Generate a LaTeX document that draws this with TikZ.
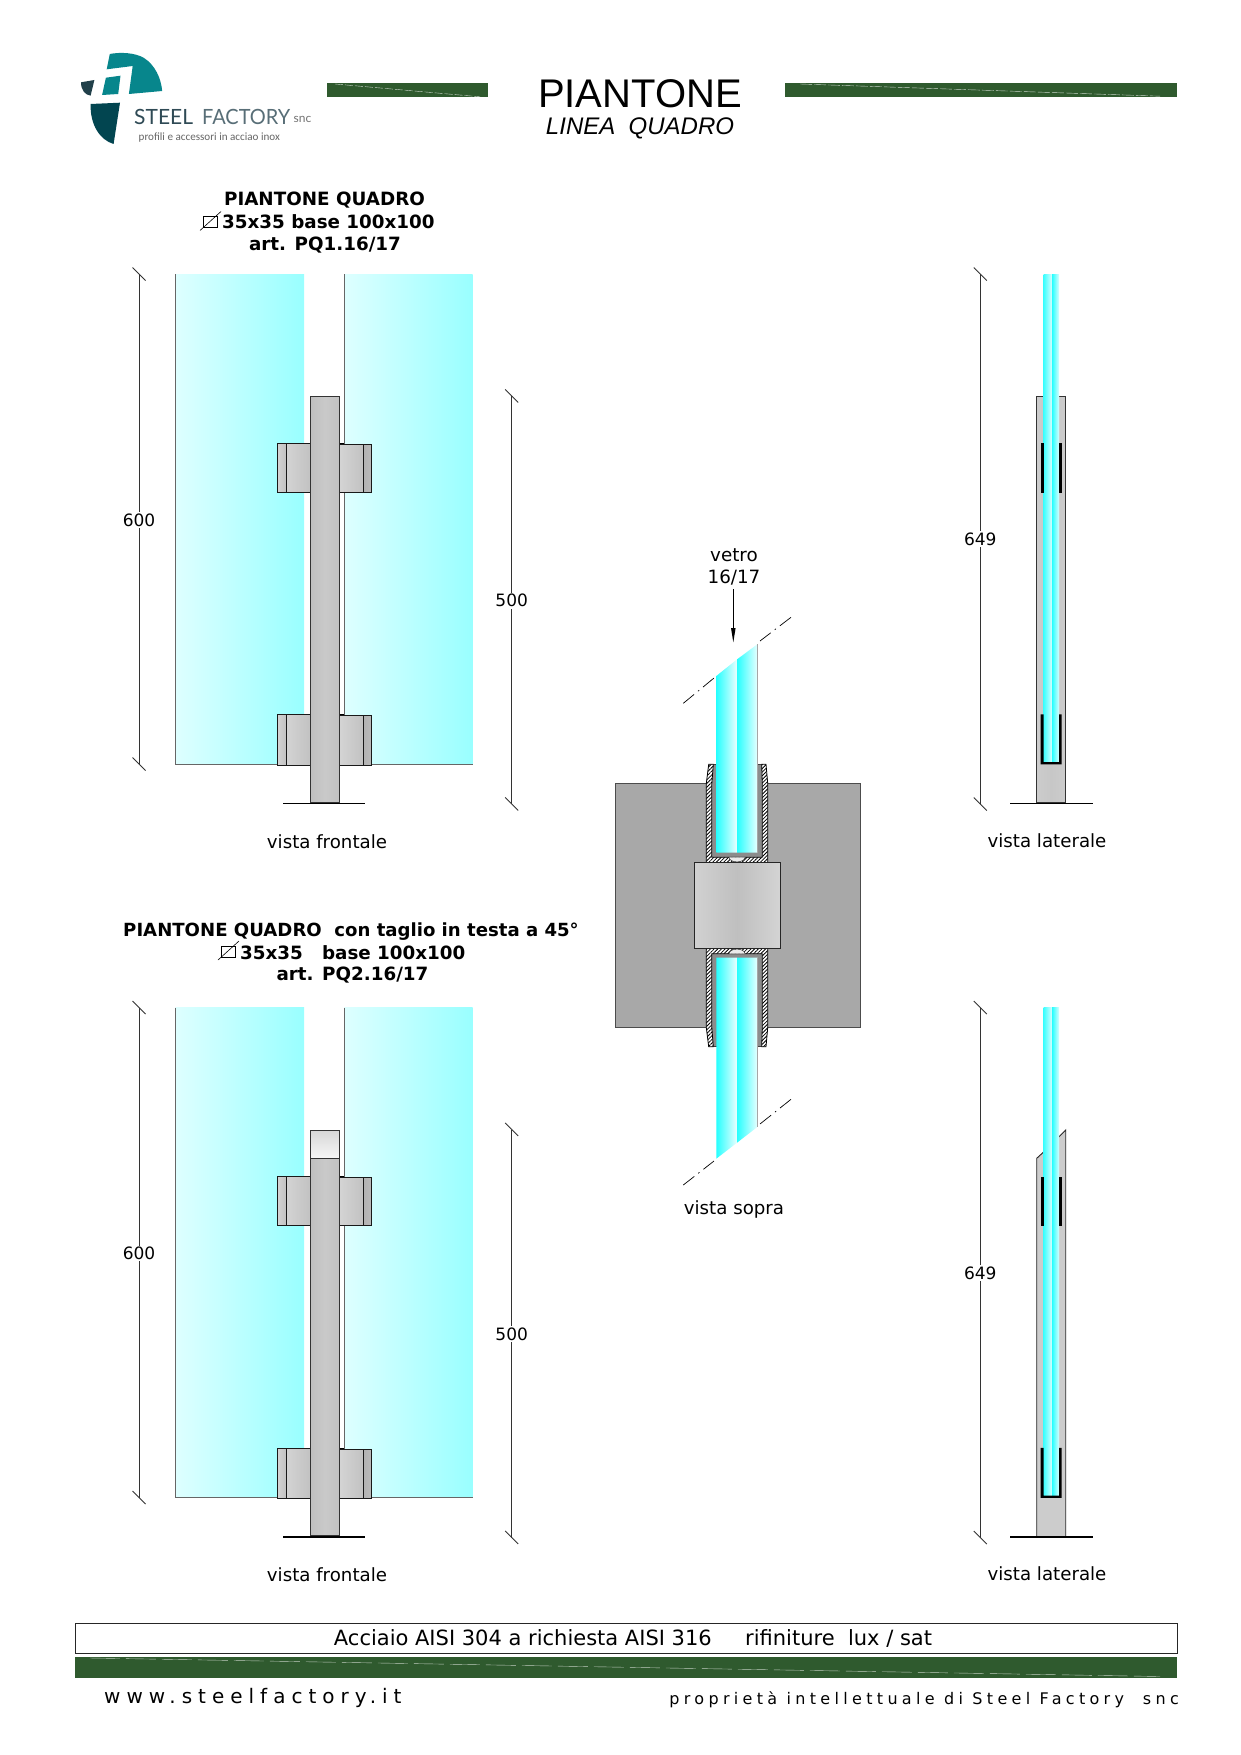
\documentclass[tikz,border=0pt]{standalone}
\usepackage{fontspec}
\setmainfont{DejaVu Sans}
\newfontfamily\arialf{Liberation Sans}
\newfontfamily\logof{Lato}
\newfontfamily\carl{Carlito}
\usetikzlibrary{patterns.meta}
\definecolor{green1}{HTML}{2F5A2E}
\definecolor{teal1}{HTML}{07868C}
\definecolor{teal2}{HTML}{024550}
\definecolor{slate1}{HTML}{21404A}
\definecolor{logot}{HTML}{2F4A55}
\tikzset{
 lbl/.style={font=\fontsize{18.2}{18.2}\selectfont,text=black,inner sep=0pt},
 dimt/.style={font=\fontsize{17}{17}\selectfont,fill=white,inner sep=1.5pt},
 gltxt/.style={font=\fontsize{18.3}{18.3}\selectfont,inner sep=0pt},
 ttl/.style={font=\fontsize{18.3}{18.3}\selectfont\bfseries,inner sep=0pt},
 dimline/.style={draw=black!80,line width=.9pt},
 panel/.style={left color=cyan!13,right color=cyan!40,shading angle=90},
 edgeg/.style={draw=black!60,line width=.8pt},
 post/.style={left color=black!25,right color=black!24,middle color=black!21,draw=black!80,line width=.9pt},
 clamp/.style={left color=black!17,right color=black!24,draw=black!90,line width=.9pt},
 clampend/.style={left color=black!30,right color=black!27,draw=black!90,line width=.9pt},
 plate/.style={draw=black,line width=1.6pt},
 hatchwall/.style={draw=black,line width=.8pt,preaction={fill=white},pattern={Lines[angle=45,distance=2.6pt,line width=.8pt]},pattern color=black},
 gl/.style={left color=cyan!85,right color=cyan!8},
 cutline/.style={draw=black,line width=.7pt,dash pattern=on 14pt off 5pt on 1.5pt off 5pt},
}
\newcommand{\vdim}[5]{%
 \draw[dimline] (#1,#2) -- (#1,#3);
 \draw[dimline] (#1-6.5,#2-6.5) -- (#1+6.5,#2+6.5);
 \draw[dimline] (#1-6.5,#3-6.5) -- (#1+6.5,#3+6.5);
 \node[dimt] at (#1,#5) {#4};
}
\newcommand{\frontview}{%
 \shade[panel] (175.7,274) rectangle (304,764);
 \shade[panel] (344.3,274) rectangle (472.7,764);
 \draw[edgeg] (175.7,274) -- (175.7,764) -- (304,764);
 \draw[edgeg] (344.3,274) -- (344.3,764) -- (472.7,764);
 % upper clamps
 \shade[clamp] (277.5,443.3) rectangle (286,492.3);
 \shade[clamp] (286,443.3) rectangle (310,492.3);
 \shade[clamp] (339.5,444.3) rectangle (363.5,492.3);
 \shade[clampend] (363.5,444.3) rectangle (371.5,492.3);
 \draw[black,line width=.9pt] (339.5,443.3) -- (344.3,443.3);
 % lower clamps
 \shade[clamp] (277.5,714.7) rectangle (286,765.3);
 \shade[clamp] (286,714.7) rectangle (310,765.3);
 \shade[clamp] (339.5,715.7) rectangle (363.5,765.3);
 \shade[clampend] (363.5,715.7) rectangle (371.5,765.3);
 \draw[black,line width=.9pt] (339.5,714.7) -- (344.3,714.7);
}
\newcommand{\sideview}{%
 \shade[left color=cyan!75,right color=cyan!15] (1043.7,274) rectangle (1052,762.7);
 \shade[left color=cyan!85,right color=cyan!15] (1052,274) rectangle (1059,762.7);
}
\newcommand{\sideclamps}{%
 \fill[black] (1040.7,443.3) rectangle (1043.7,492.7);
 \fill[black] (1059,443.3) rectangle (1061.7,492.7);
 \fill[black] (1040.7,714.3) -- (1043.7,714.3) -- (1043.7,762) -- (1059,762) -- (1059,714.3) -- (1061.7,714.3) -- (1061.7,764.3) -- (1040.7,764.3) -- cycle;
}
\newcommand{\channel}{%
 \fill[black!45] (713.3,764.3) -- (711.7,785) -- (711.7,857.3) -- (762.3,857.3) -- (762.3,785) -- (761.7,764.3) -- cycle;
 \draw[black!75,line width=.7pt] (713.3,764.3) -- (761.7,764.3);
 \path[hatchwall] (708.7,764.3) -- (706.3,783.3) -- (706.3,862.7) -- (767.7,862.7) -- (767.7,783.3) -- (766,764.3) -- (761.7,764.3) -- (762.3,785) -- (762.3,857.3) -- (711.7,857.3) -- (711.7,785) -- (713.3,764.3) -- cycle;
}
\newcommand{\dome}{%
 \fill[white!92!black] (729,857.3) arc[start angle=180,end angle=0,x radius=8,y radius=4.6] -- cycle;
 \draw[black!80,line width=.5pt] (729,857.3) arc[start angle=180,end angle=0,x radius=8,y radius=4.6];
}
\begin{document}
\begin{tikzpicture}[x=1pt,y=-1pt]
\useasboundingbox (0,0) rectangle (1240,1755);
\fill[white] (0,0) rectangle (1240,1755);

% logo
\fill[teal1] (109.8,54) .. controls (120,52) and (135,52.5) .. (144,58) .. controls (155,65) and (161,78) .. (162.2,91) -- (128.9,94) -- (132.7,66) -- (106.7,69.3) -- cycle;
\fill[teal1] (105.9,77.7) -- (120.5,75.7) -- (118.2,94) -- (102.1,95) -- cycle;
\fill[slate1] (81,82.3) -- (94.4,80) -- (90.6,95.7) .. controls (85,95) and (81,90) .. (81,82.3) -- cycle;
\fill[teal2] (90.6,104) -- (120,102.7) -- (113.6,144) .. controls (100,140) and (90,125) .. (90.6,104) -- cycle;
\node[inner sep=0pt,anchor=west,text=logot] (logoa) at (134,116.7) {\logof\fontsize{21}{21}\selectfont STEEL};
\node[inner sep=0pt,anchor=west,text=logot!80] (logob) at (202,116.7) {\scalebox{.95}[1]{\logof\fontsize{21}{21}\selectfont FACTORY}};
\node[inner sep=0pt,anchor=west,text=black!55] (logoc) at (293.5,119) {\logof\fontsize{12}{12}\selectfont snc};
\node[inner sep=0pt,anchor=west,text=black!60] (logod) at (138.5,137.5) {\carl\fontsize{11.1}{11.1}\selectfont profili e accessori in acciao inox};

% header bars
\fill[green1] (327,83) rectangle (488,97.5);
\draw[white!75!green1,line width=.4pt,dash pattern=on 8pt off 2pt] (335,84) -- (480,96.8);
\fill[green1] (785,83) rectangle (1177,97);
\draw[white!75!green1,line width=.4pt,dash pattern=on 12pt off 2pt] (800,84) -- (1160,96.2);
\node[inner sep=0pt] (title) at (640,94) {\arialf\fontsize{40}{40}\selectfont PIANTONE};
\node[inner sep=0pt] (subtitle) at (640,128.5) {\arialf\itshape\fontsize{24}{24}\selectfont LINEA\ \ QUADRO};

% titles 1
\node[ttl] (t1a) at (324.5,200) {PIANTONE QUADRO};
\node[ttl,anchor=west] (t1b) at (222,222) {35x35 base 100x100};
\node[ttl] (t1c) at (325,245.5) {art. PQ1.16/17};
\draw[black,line width=.6pt] (203.5,216.5) rectangle (217,227.5);
\draw[black,line width=.6pt] (200,230.5) -- (221,211.5);

% front view 1
\frontview
\shade[post] (310.2,396) rectangle (339.6,802.3);
\draw[plate] (283,803.3) -- (365.3,803.3);
\vdim{139}{274}{764}{600}{520}
\vdim{511.7}{396}{804}{500}{600.7}
\node[lbl] (v1) at (327,842) {vista frontale};

% side view 1
\shade[post,left color=black!20,right color=black!20,middle color=black!22] (1036.7,396) rectangle (1065.7,802.3);
\sideview
\sideclamps
\draw[plate] (1010,803.3) -- (1093,803.3);
\vdim{980.3}{274}{804}{649}{539}
\node[lbl] (v2) at (1047,841) {vista laterale};

% titles 2
\node[ttl,font=\fontsize{18.1}{18.1}\selectfont\bfseries] (t2a) at (351,931.5) {PIANTONE QUADRO\ \ con taglio in testa a 45°};
\node[ttl,anchor=west] (t2b) at (240,952.5) {35x35\ \ \ base 100x100};
\node[ttl] (t2c) at (352.5,975.5) {art. PQ2.16/17};
\draw[black,line width=.6pt] (221.5,946) rectangle (235,957);
\draw[black,line width=.6pt] (218,960) -- (239,941);

% front view 2
\begin{scope}[yshift=-733.5pt]
 \frontview
 \shade[post] (310.2,424.8) rectangle (339.6,802.3);
 \shade[top color=black!16,bottom color=black!3,draw=black!80,line width=.9pt] (310.2,396.5) rectangle (339.6,424.8);
 \draw[plate] (283,803.3) -- (365.3,803.3);
 \vdim{139}{274}{764}{600}{520}
 \vdim{511.7}{396}{804}{500}{600.7}
 % side view 2
 \fill[black!20] (1036.7,424.8) -- (1065.7,396.5) -- (1065.7,802.3) -- (1036.7,802.3) -- cycle;
 \draw[black!85,line width=.9pt] (1044.7,417.5) -- (1036.7,424.8) -- (1036.7,802.3);
 \draw[black!85,line width=.9pt] (1058.3,403.8) -- (1065.7,396.5) -- (1065.7,802.3);
 \sideview
 \sideclamps
 \draw[plate] (1010,803.3) -- (1093,803.3);
 \vdim{980.3}{274}{804}{649}{539.5}
\end{scope}
\node[lbl] (v3) at (327,1575) {vista frontale};
\node[lbl] (v4) at (1047,1574) {vista laterale};

% centre view
\fill[black!34] (615.5,783) rectangle (860.5,1027.7);
\draw[black!70,line width=1pt] (615.5,783) rectangle (860.5,1027.7);
\channel
\begin{scope}[yscale=-1,yshift=1811pt]
 \channel
\end{scope}
% glass upper
\shade[gl] (716.3,676) -- (737,659.4) -- (737,852.7) -- (716.3,852.7) -- cycle;
\shade[gl] (737,659.4) -- (757.7,644) -- (757.7,852.7) -- (737,852.7) -- cycle;
\draw[black!35,line width=.5pt] (757.7,644) -- (757.7,852.7);
% glass lower
\shade[gl] (716.3,957.7) -- (737,957.7) -- (737,1142.7) -- (716.3,1158.7) -- cycle;
\shade[gl] (737,957.7) -- (757.7,957.7) -- (757.7,1126.7) -- (737,1142.7) -- cycle;
\draw[black!35,line width=.5pt] (757.7,957.7) -- (757.7,1126.7);
\dome
\begin{scope}[yscale=-1,yshift=1811pt]
 \dome
\end{scope}
% block
\shade[left color=black!18,right color=black!17,middle color=black!25,draw=black!85,line width=1pt] (694.3,862.7) rectangle (780.3,948.3);
% cut lines
\coordinate (c1a) at (683.3,703.3); \coordinate (c1b) at (714,678);
\coordinate (c1c) at (760,641); \coordinate (c1d) at (791,617.3);
\coordinate (c2a) at (683.3,1185); \coordinate (c2b) at (714,1161);
\coordinate (c2c) at (760,1124); \coordinate (c2d) at (791,1099.3);
\draw[cutline] (c1a) -- (c1b);
\draw[cutline] (c1d) -- (c1c);
\draw[cutline] (c2a) -- (c2b);
\draw[cutline] (c2d) -- (c2c);
% label
\node[gltxt] (g1) at (734,555) {vetro};
\node[gltxt] (g2) at (734,578) {16/17};
\coordinate (g3) at (733.3,642.3);
\fill[black] (733.3,642.3) -- (731,628) -- (735.6,628) -- cycle;
\draw[black,line width=.7pt] (733.3,589) -- (733.3,630);
\node[lbl] (v5) at (734,1209.5) {vista sopra};

% footer
\draw[black!85,line width=1pt] (75,1623) rectangle (1177,1653);
\node[inner sep=0pt] (f1) at (633,1638) {\fontsize{21}{21}\selectfont Acciaio AISI 304 a richiesta AISI 316\ \ \ \ \ rifiniture\ \ lux / sat};
\fill[green1] (75,1657) rectangle (1177,1677.7);
\draw[white!70!green1,line width=.4pt,dash pattern=on 30pt off 6pt] (90,1658) -- (1160,1676.5);
\node[inner sep=0pt,anchor=west] (f2) at (104,1698) {\addfontfeature{LetterSpace=30}\fontsize{20}{20}\selectfont www.steelfactory.it};
\node[inner sep=0pt,anchor=east] (f3) at (1179,1700) {\addfontfeature{LetterSpace=27}\fontsize{16}{16}\selectfont proprietà intellettuale di Steel Factory\ \ snc};
\end{tikzpicture}
\end{document}
